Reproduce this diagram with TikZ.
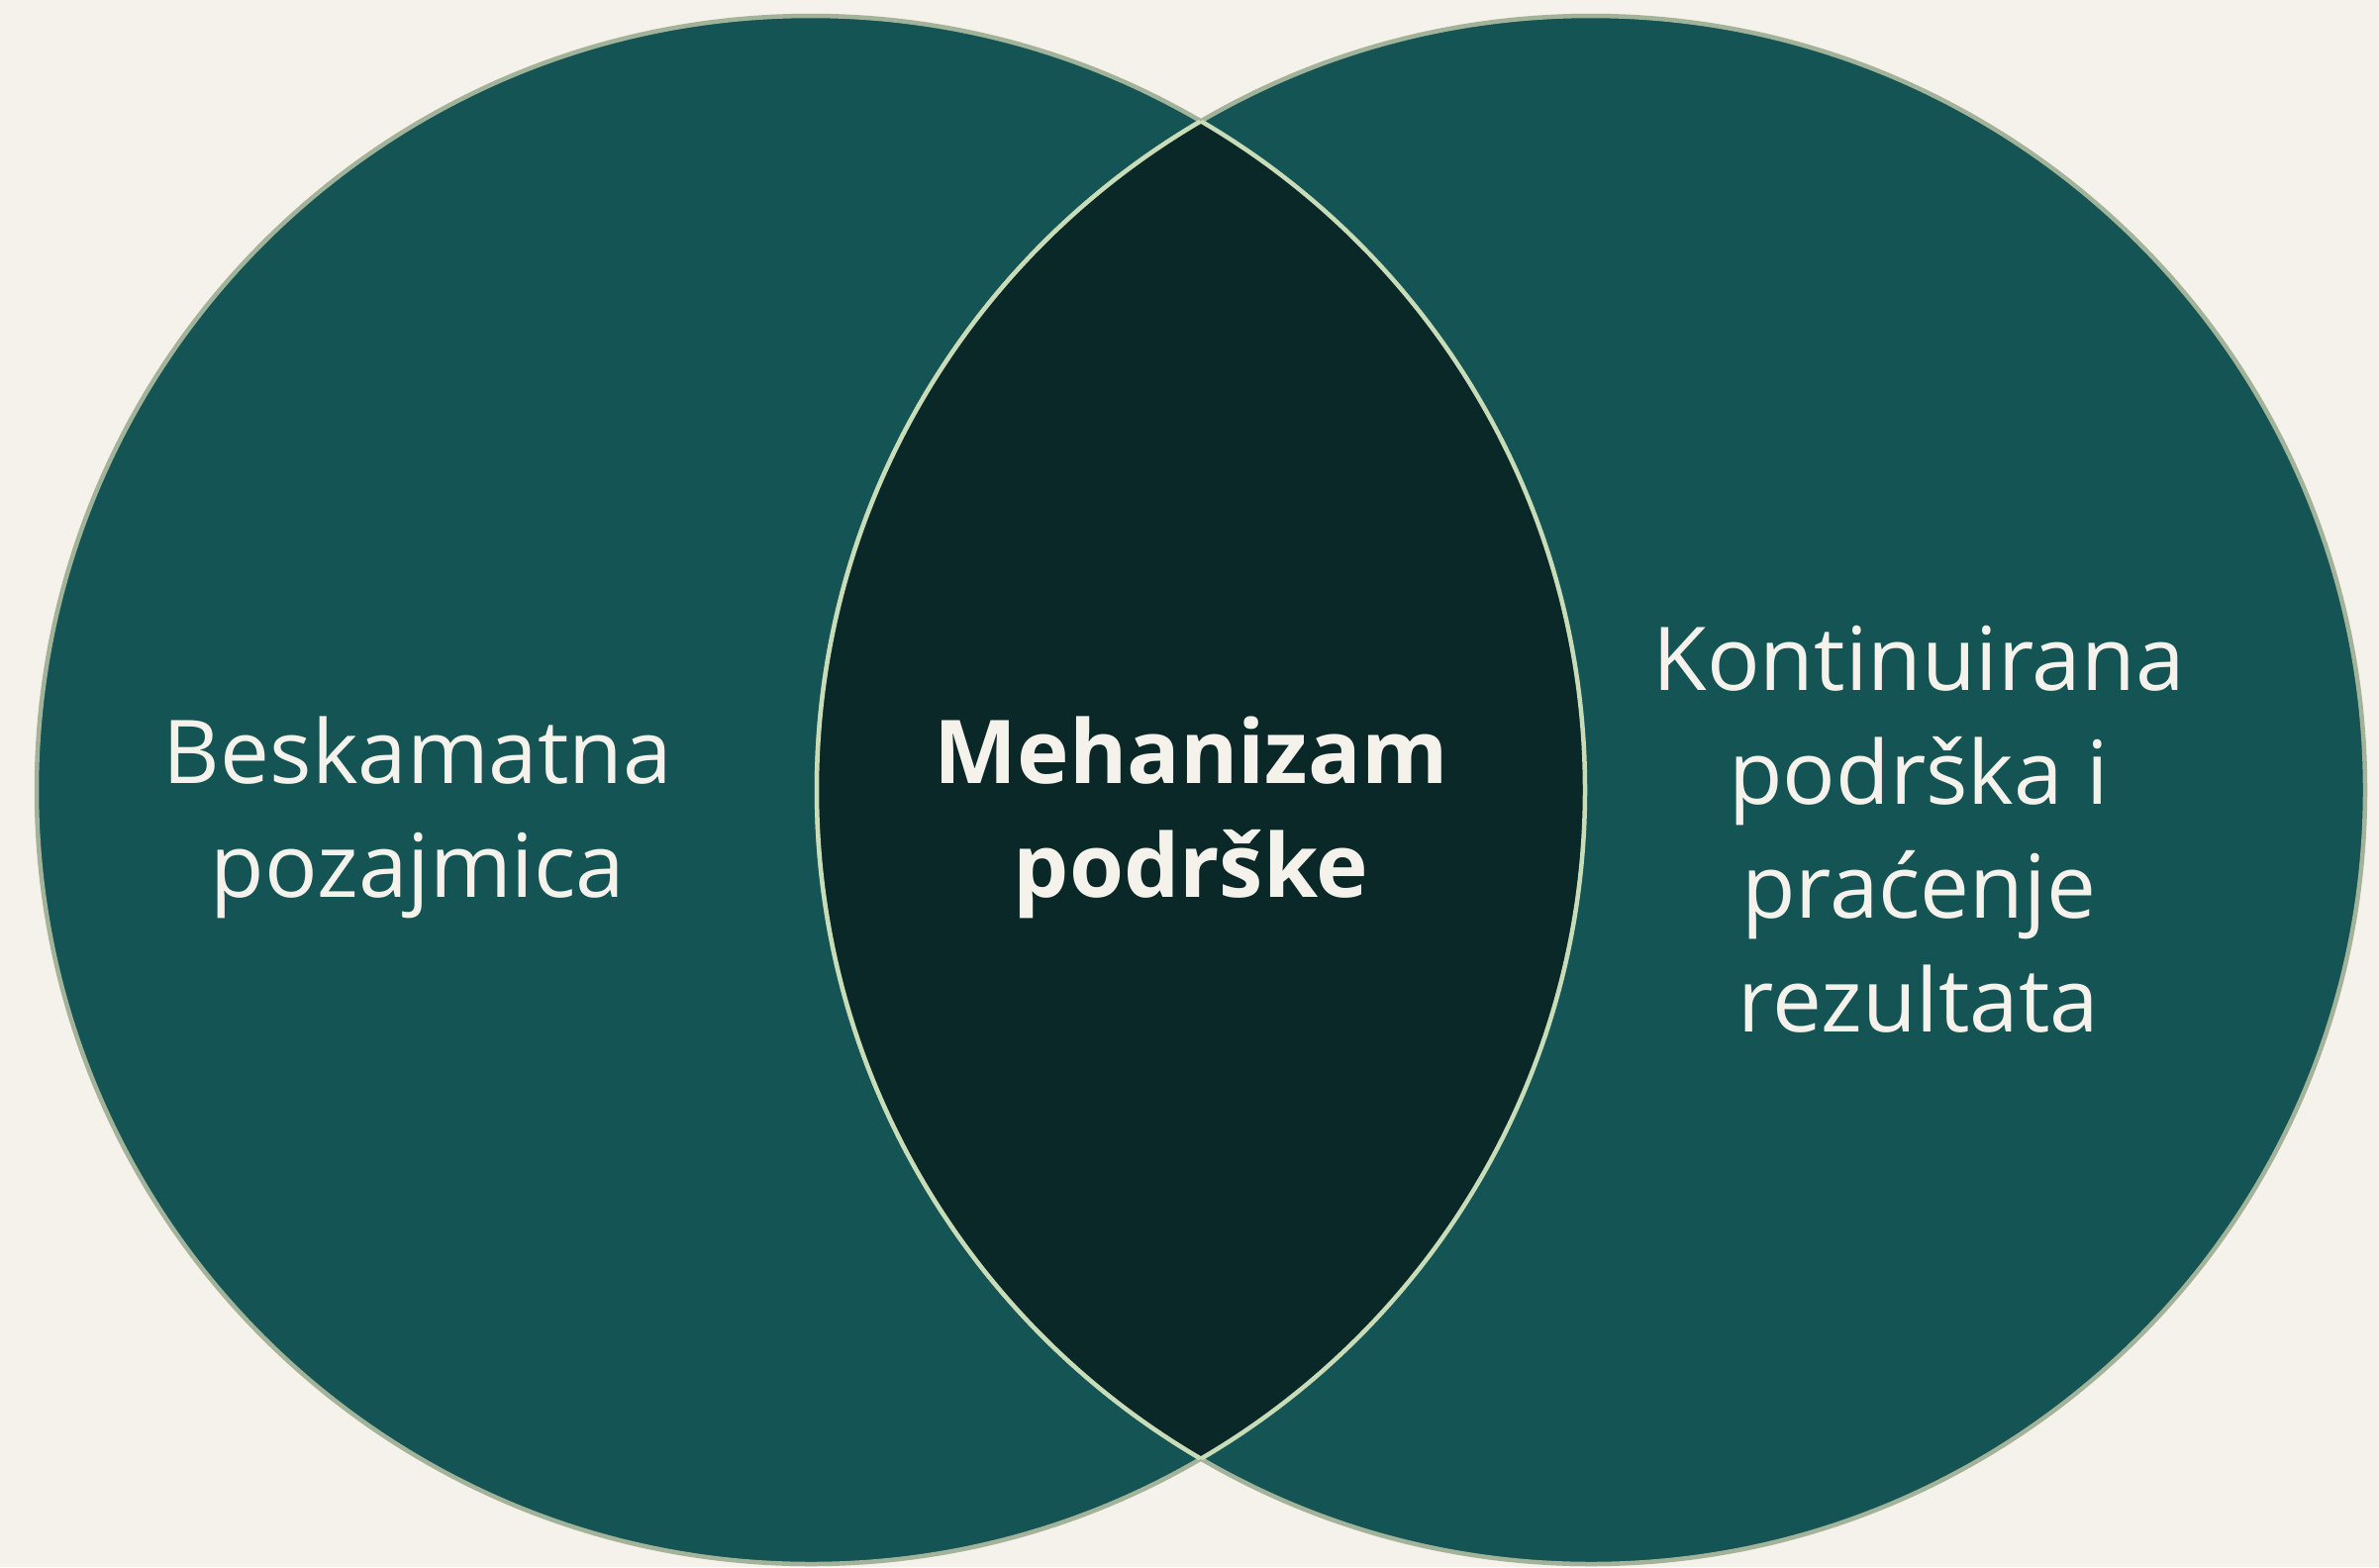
\documentclass[tikz,border=0pt]{standalone}
\usepackage{fontspec}
\setmainfont{Open Sans}
\definecolor{bgc}{HTML}{F5F2EB}
\definecolor{tealc}{HTML}{145455}
\definecolor{darkc}{HTML}{0A2828}
\definecolor{rimc}{HTML}{A3B39A}
\definecolor{lensrim}{HTML}{C8DCB8}
\definecolor{txtc}{HTML}{F5F2EB}
\tikzset{
  setc/.style={circle, minimum size=1564pt, inner sep=0pt, fill=tealc, draw=rimc, line width=4.5pt},
  lbl/.style={text=txtc, align=center, anchor=base, inner sep=0pt, font=\fontsize{89}{115}\selectfont},
  lblb/.style={lbl, font=\fontsize{89}{115}\selectfont\bfseries},
}
\begin{document}
\begin{tikzpicture}[x=1pt,y=-1pt]
\fill[bgc] (0,0) rectangle (2403,1583);
\useasboundingbox (0,0) rectangle (2403,1583);
\node[setc] (L) at (819,798) {};
\node[setc] (R) at (1607,798) {};
\begin{scope}
  \clip (819,798) circle (782pt);
  \fill[darkc] (1607,798) circle (782pt);
  \draw[lensrim, line width=4.5pt] (1607,798) circle (782pt);
\end{scope}
\begin{scope}
  \clip (1607,798) circle (782pt);
  \draw[lensrim, line width=4.5pt] (819,798) circle (782pt);
\end{scope}
\node[lbl] (tl) at (422,906) {Beskamatna\\pozajmica};
\node[lblb] (tm) at (1203,906) {Mehanizam\\podrške};
\node[lbl] (tr) at (1938,1042) {Kontinuirana\\podrška i\\praćenje\\rezultata};
\end{tikzpicture}
\end{document}
